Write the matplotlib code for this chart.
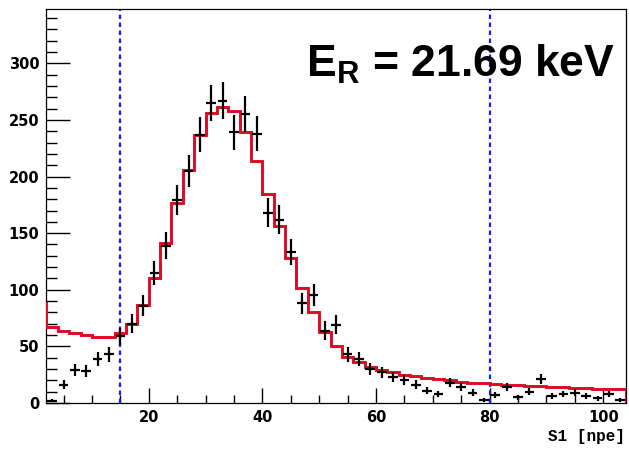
"""S1 spectrum with model overlay, ROOT-like style."""

import matplotlib
matplotlib.use("Agg")
import matplotlib.pyplot as plt
import numpy as np

# data: bin centres (2 npe bins) and counts
s1_centers = np.arange(3, 104, 2)
counts = [
    2, 16, 29, 28, 39, 43, 59, 70, 86, 115,
    139, 179, 205, 237, 265, 267, 239, 255, 238, 168,
    162, 133, 88, 95, 64, 69, 43, 39, 30, 27,
    23, 20, 16, 11, 8, 18, 14, 9, 3, 7,
    14, 5, 10, 21, 6, 8, 9, 6, 4, 8,
    3,
]

# model histogram: edges and bin contents
model_edges = np.arange(0, 105, 2)
model_values = [
    88, 67.5, 64, 62, 60, 58, 58, 62, 70, 86.5,
    110, 141, 177, 206, 237, 256, 261, 258, 239, 214,
    185, 156, 128, 102, 80.5, 63, 50.5, 41, 36, 32,
    29, 27, 25, 23.5, 22, 21, 20, 19, 18, 17.3,
    16.8, 16.3, 15.8, 15.3, 14.8, 14.4, 14, 13.6, 13.2, 12.8,
    12.4, 12,
]

cut_lines = [15, 80]
x_ticks = [20, 40, 60, 80, 100]
y_ticks = [0, 50, 100, 150, 200, 250, 300]

fig = plt.figure(figsize=(6.29, 4.49), dpi=100)
ax = fig.add_axes([0.0739, 0.1024, 0.9213, 0.8776])

ax.stairs(model_values, model_edges, color="#dc0a22", lw=2.1, zorder=3)
ax.errorbar(s1_centers, counts, yerr=np.sqrt(counts), xerr=0.85,
            fmt="none", ecolor="black", elinewidth=1.6, capsize=0, zorder=4)

for xc in cut_lines:
    ax.axvline(xc, color="#1a1aff", lw=1.6, ls=(0, (2, 1.6)), zorder=2)

ax.set_xlim(2, 104)
ax.set_ylim(0, 348)

ax.set_xticks(x_ticks)
ax.set_xticks(np.arange(5, 105, 5), minor=True)
ax.set_yticks(y_ticks)
ax.set_yticks(np.arange(0, 348, 10), minor=True)
ax.tick_params(axis="x", which="major", direction="in", length=11, width=1, pad=5)
ax.tick_params(axis="x", which="minor", direction="in", length=5.5, width=1)
ax.tick_params(axis="y", which="major", direction="in", length=17, width=1, pad=5)
ax.tick_params(axis="y", which="minor", direction="in", length=8, width=1)
for lab in ax.get_xticklabels() + ax.get_yticklabels():
    lab.set_fontweight("bold")
    lab.set_fontsize(10.5)

for sp in ax.spines.values():
    sp.set_linewidth(0.9)

fig.text(0.994, 0.017, "S1 [npe]", ha="right", va="baseline",
         family="Liberation Mono", weight="bold", fontsize=11.5)

plt.rcParams["mathtext.fontset"] = "custom"
plt.rcParams["mathtext.rm"] = "Liberation Sans:bold"
plt.rcParams["mathtext.bf"] = "Liberation Sans:bold"
ax.text(0.978, 0.830, r"E$_{\mathrm{R}}$ = 21.69 keV", transform=fig.transFigure,
        ha="right", va="baseline", family="Liberation Sans", weight="bold",
        fontsize=32)

fig.savefig("out.png", dpi=100)
